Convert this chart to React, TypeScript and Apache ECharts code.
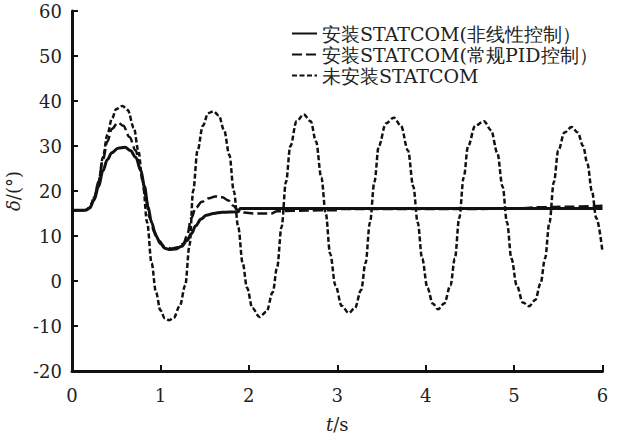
import React, { useEffect, useRef } from "react";
import * as echarts from "echarts";

const seriesNames = [
  "安装STATCOM(非线性控制）",
  "安装STATCOM(常规PID控制）",
  "未安装STATCOM",
];

const xTicks = [0, 1, 2, 3, 4, 5, 6];
const yTicks = [-20, -10, 0, 10, 20, 30, 40, 50, 60];

// 安装STATCOM(非线性控制) — solid
const nonlinearT = [0, 0.15, 0.2, 0.25, 0.3, 0.35, 0.4, 0.45, 0.52, 0.6, 0.66, 0.72, 0.78, 0.82, 0.86, 0.9, 0.95, 1.0, 1.05, 1.1, 1.17, 1.24, 1.3, 1.35, 1.4, 1.46, 1.52, 1.6, 1.7, 1.88, 1.9, 3.0, 4.5, 6.0];
const nonlinearY = [15.7, 15.7, 16.2, 18, 21, 24.5, 27, 28.5, 29.5, 29.7, 29, 27.5, 24.5, 21, 16.5, 13, 10, 8.3, 7.3, 7, 7.1, 7.7, 9, 10.5, 12.3, 13.8, 14.6, 15, 15.3, 15.4, 16.1, 16.1, 16.1, 16.1];

// 安装STATCOM(常规PID控制) — long dash
const pidT = [0, 0.15, 0.2, 0.25, 0.3, 0.35, 0.4, 0.45, 0.52, 0.58, 0.65, 0.72, 0.78, 0.83, 0.88, 0.93, 0.98, 1.05, 1.12, 1.2, 1.26, 1.3, 1.35, 1.4, 1.47, 1.55, 1.62, 1.7, 1.77, 1.82, 1.88, 1.95, 2.05, 2.25, 2.32, 2.5, 2.8, 3.0, 3.05, 3.5, 4.5, 5.0, 5.3, 5.6, 6.0];
const pidY = [15.7, 15.7, 16.3, 18.5, 22, 27, 31, 33.8, 35.2, 34.5, 32, 29, 24, 19, 14, 11, 9, 7.6, 7.2, 7.5, 8.3, 10, 14, 16.3, 17.6, 18.4, 18.8, 18.6, 17.9, 16.8, 15.7, 15.2, 15, 15, 15.5, 15.6, 15.7, 15.7, 16, 16, 16, 16.1, 16.4, 16.5, 16.7];

// 未安装STATCOM — short dash
const noneT = [0, 0.15, 0.2, 0.25, 0.3, 0.35, 0.4, 0.45, 0.5, 0.57, 0.63, 0.7, 0.75, 0.8, 0.85, 0.9, 0.95, 1.0, 1.05, 1.1, 1.15, 1.22, 1.28, 1.33, 1.37, 1.42, 1.48, 1.54, 1.6, 1.66, 1.72, 1.78, 1.83, 1.88, 1.93, 1.98, 2.04, 2.12, 2.2, 2.27, 2.32, 2.37, 2.42, 2.47, 2.54, 2.62, 2.7, 2.76, 2.82, 2.87, 2.92, 2.98, 3.05, 3.13, 3.2, 3.27, 3.32, 3.37, 3.42, 3.47, 3.55, 3.64, 3.72, 3.8, 3.86, 3.91, 3.96, 4.02, 4.08, 4.14, 4.21, 4.28, 4.33, 4.38, 4.43, 4.48, 4.56, 4.66, 4.74, 4.81, 4.87, 4.92, 4.97, 5.03, 5.1, 5.17, 5.24, 5.3, 5.35, 5.4, 5.45, 5.5, 5.57, 5.65, 5.72, 5.78, 5.83, 5.88, 5.93, 6.0];
const noneY = [15.7, 15.7, 16.2, 18.5, 22, 27.5, 32.5, 36, 38.2, 38.9, 38, 34, 29, 22, 13, 4, -2.5, -6.5, -8.3, -8.7, -8.2, -5.5, -1, 8, 20, 29, 34.5, 37.3, 37.7, 36.8, 33.5, 28, 20, 12, 4, -1.5, -6, -8, -6.8, -2.5, 3, 12, 22, 30, 35.5, 37, 35.5, 31, 23, 15, 6, -1, -5.5, -7.1, -6, -2, 4, 13, 22, 30, 35, 36.3, 34.5, 29, 21, 13, 5, -1.5, -5, -6.3, -5, -1, 5, 14, 23, 30, 34.5, 35.5, 33.5, 28.5, 21, 13, 5, -1, -4.8, -5.6, -4.2, -0.5, 5, 13, 22, 29, 33, 34.2, 33, 30, 26, 20, 14, 6.5];

const zip = (t: number[], y: number[]) => t.map((v, i) => [v, y[i]]);

const FONT = "DejaVu Serif";
const INK = "#111";
const TXT = "#222";

export default function App() {
  const ref = useRef<HTMLDivElement>(null);
  useEffect(() => {
    if (!ref.current) return;
    const chart = echarts.init(ref.current, undefined, { renderer: "svg" });
    const lineBase = { type: "line", showSymbol: false, symbol: "none", smooth: 0.35, smoothMonotone: "x" };
    const nameStyle = {
      fontSize: 18,
      fontFamily: FONT,
      color: TXT,
      rich: { i: { fontStyle: "italic", fontSize: 18, fontFamily: FONT, color: TXT } },
    };
    chart.setOption({
      animation: false,
      backgroundColor: "#fff",
      grid: { left: 72, right: 14.5, top: 11, bottom: 64, containLabel: false, outerBoundsMode: "none" },
      legend: {
        orient: "vertical",
        left: 286,
        top: 19,
        itemWidth: 25,
        itemHeight: 12,
        itemGap: 2,
        itemStyle: { color: "rgba(0,0,0,0)", borderWidth: 0, opacity: 0 },
        textStyle: { fontSize: 19, fontFamily: FONT, color: TXT },
        data: seriesNames,
      },
      xAxis: {
        type: "value",
        min: 0,
        max: 6,
        interval: 1,
        name: "{i|t}/s",
        nameLocation: "middle",
        nameGap: 44,
        nameTextStyle: nameStyle,
        axisLine: { show: true, onZero: false, lineStyle: { color: INK, width: 3 } },
        axisTick: { show: true, inside: true, length: 6, lineStyle: { color: INK, width: 2 } },
        axisLabel: { fontSize: 18, fontFamily: FONT, color: TXT, margin: 15, formatter: (v: number) => (xTicks.includes(v) ? String(v) : "") },
        splitLine: { show: false },
      },
      yAxis: {
        type: "value",
        min: -20,
        max: 60,
        interval: 10,
        name: "{i|δ}/(°)",
        nameLocation: "middle",
        nameGap: 33,
        nameRotate: 90,
        nameTextStyle: nameStyle,
        axisLine: { show: true, onZero: false, lineStyle: { color: INK, width: 3 } },
        axisTick: { show: true, inside: true, length: 6, lineStyle: { color: INK, width: 2 } },
        axisLabel: { fontSize: 18, fontFamily: FONT, color: TXT, margin: 10, formatter: (v: number) => (yTicks.includes(v) ? String(v) : "") },
        splitLine: { show: false },
      },
      series: [
        {
          ...lineBase,
          name: seriesNames[0],
          data: zip(nonlinearT, nonlinearY),
          lineStyle: { color: INK, width: 3, type: "solid" },
          itemStyle: { color: INK },
          z: 3,
        },
        {
          ...lineBase,
          name: seriesNames[1],
          data: zip(pidT, pidY),
          lineStyle: { color: INK, width: 2.5, type: [10, 4] },
          itemStyle: { color: INK },
          z: 2,
        },
        {
          ...lineBase,
          name: seriesNames[2],
          data: zip(noneT, noneY),
          lineStyle: { color: INK, width: 2.5, type: [5, 2.5] },
          itemStyle: { color: INK },
          z: 1,
        },
      ],
    });
    return () => chart.dispose();
  }, []);
  return <div ref={ref} style={{ position: "fixed", left: 0, top: 0, width: 617, height: 435 }} />;
}
